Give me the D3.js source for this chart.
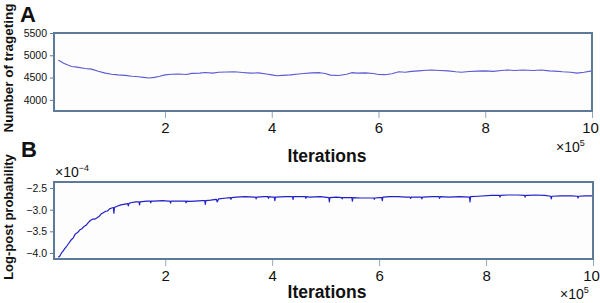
<!DOCTYPE html>
<html>
<head>
<meta charset="utf-8">
<script src="https://cdn.jsdelivr.net/npm/d3@7"></script>
<style>
  body { margin: 0; background: #fff; }
  text { font-family: "Liberation Sans", Arial, sans-serif; fill: #111; }
</style>
</head>
<body>
<div id="chart"></div>
<script>
//
// data (iterations in units of 1e5)
//
var xTicks = [2, 4, 6, 8, 10]
var aTicks = [4000, 4500, 5000, 5500]
var bTicks = [-4.0, -3.5, -3.0, -2.5]

// panel A: number of targeting
var aIter = [0, 0.05, 0.1, 0.18, 0.25, 0.35, 0.5, 0.62, 0.75, 0.88, 1.0, 1.12, 1.25, 1.38, 1.5, 1.6, 1.7, 1.8,
  1.9, 2.0, 2.12, 2.25, 2.4, 2.5, 2.65, 2.75, 2.9, 3.0, 3.15, 3.3, 3.45, 3.6, 3.75, 3.9, 4.0, 4.1, 4.2,
  4.35, 4.5, 4.6, 4.75, 4.9, 5.0, 5.1, 5.25, 5.4, 5.5, 5.6, 5.75, 5.9, 6.0, 6.12, 6.25, 6.38, 6.5, 6.62,
  6.75, 6.9, 7.0, 7.15, 7.3, 7.45, 7.55, 7.7, 7.85, 8.0, 8.15, 8.3, 8.42, 8.55, 8.7, 8.9, 9.05, 9.2,
  9.3, 9.45, 9.6, 9.72, 9.85, 10.0]
var aCount = [4890, 4860, 4820, 4780, 4750, 4735, 4705, 4690, 4640, 4600, 4575, 4560, 4550, 4530, 4520, 4505, 4490, 4505,
  4530, 4560, 4575, 4580, 4570, 4595, 4600, 4615, 4600, 4620, 4625, 4630, 4615, 4600, 4605, 4580, 4560, 4540, 4550,
  4560, 4580, 4590, 4605, 4610, 4590, 4555, 4545, 4575, 4610, 4600, 4605, 4590, 4570, 4565, 4585, 4630, 4620, 4640,
  4650, 4665, 4670, 4660, 4650, 4630, 4620, 4635, 4645, 4650, 4640, 4660, 4670, 4660, 4670, 4660, 4670, 4650,
  4645, 4630, 4620, 4600, 4620, 4650]

// panel B: log-post probability (x 1e-4)
var bIter = [0, 0.03, 0.06, 0.09, 0.12, 0.16, 0.2, 0.24, 0.28, 0.32, 0.36, 0.4, 0.44, 0.48, 0.52, 0.56, 0.6, 0.64,
  0.68, 0.72, 0.76, 0.8, 0.84, 0.88, 0.92, 0.96, 1.0, 1.03, 1.04, 1.05, 1.1, 1.17, 1.25, 1.3, 1.31, 1.32,
  1.35, 1.45, 1.51, 1.52, 1.53, 1.65, 1.72, 1.73, 1.74, 1.8, 1.95, 2.05, 2.09, 2.1, 2.11, 2.3, 2.38, 2.39,
  2.4, 2.45, 2.55, 2.7, 2.74, 2.75, 2.76, 2.85, 2.95, 2.96, 2.97, 3.0, 3.15, 3.22, 3.23, 3.24, 3.33, 3.5,
  3.65, 3.69, 3.7, 3.71, 3.85, 3.92, 3.93, 3.94, 4.0, 4.04, 4.05, 4.06, 4.25, 4.38, 4.39, 4.4, 4.55, 4.62,
  4.63, 4.64, 4.7, 4.9, 5.06, 5.07, 5.08, 5.2, 5.3, 5.31, 5.32, 5.4, 5.49, 5.5, 5.51, 5.65, 5.8, 5.9,
  5.91, 5.92, 6.0, 6.05, 6.06, 6.07, 6.2, 6.35, 6.5, 6.58, 6.59, 6.6, 6.79, 6.8, 6.81, 7.0, 7.12, 7.13,
  7.14, 7.3, 7.5, 7.69, 7.7, 7.71, 7.85, 8.1, 8.25, 8.26, 8.27, 8.4, 8.6, 8.72, 8.73, 8.74, 8.8, 8.9,
  9.1, 9.21, 9.22, 9.23, 9.4, 9.6, 9.71, 9.72, 9.73, 9.85, 10.0]
var bValue = [-4.10, -4.07, -4.00, -3.96, -3.90, -3.84, -3.77, -3.70, -3.65, -3.56, -3.53, -3.47, -3.44, -3.39, -3.36, -3.30, -3.25, -3.22,
  -3.22, -3.19, -3.16, -3.10, -3.07, -3.04, -3.03, -2.98, -2.96, -2.95, -3.08, -2.95, -2.92, -2.89, -2.87, -2.86, -2.91, -2.86,
  -2.84, -2.82, -2.82, -2.89, -2.82, -2.80, -2.80, -2.84, -2.80, -2.80, -2.79, -2.80, -2.80, -2.85, -2.80, -2.80, -2.80, -2.84,
  -2.80, -2.81, -2.80, -2.79, -2.79, -2.88, -2.79, -2.78, -2.76, -2.76, -2.82, -2.75, -2.73, -2.72, -2.76, -2.72, -2.71, -2.70,
  -2.71, -2.71, -2.75, -2.71, -2.70, -2.70, -2.74, -2.70, -2.71, -2.71, -2.79, -2.71, -2.70, -2.70, -2.76, -2.70, -2.70, -2.70,
  -2.74, -2.70, -2.71, -2.70, -2.72, -2.82, -2.72, -2.71, -2.72, -2.75, -2.72, -2.72, -2.72, -2.80, -2.72, -2.73, -2.73, -2.73,
  -2.76, -2.73, -2.72, -2.72, -2.79, -2.71, -2.70, -2.70, -2.71, -2.71, -2.74, -2.71, -2.71, -2.75, -2.71, -2.70, -2.70, -2.74,
  -2.70, -2.71, -2.70, -2.71, -2.82, -2.70, -2.69, -2.67, -2.67, -2.71, -2.67, -2.66, -2.66, -2.67, -2.71, -2.67, -2.67, -2.66,
  -2.67, -2.69, -2.75, -2.69, -2.68, -2.68, -2.69, -2.73, -2.69, -2.68, -2.68]

//
// layout
//
var W = 600, H = 303
var boxColor = '#5d7b98', tickColor = '#93a8bd'

var svg = d3.select('#chart').append('svg')
  .attr('width', W).attr('height', H)

function panel(opt) {
  var x = d3.scaleLinear().domain([-0.08, 10]).range([opt.left, opt.right])
  var y = d3.scaleLinear().domain(opt.yDomain).range([opt.bottom, opt.top])

  svg.append('rect')
    .attr('x', opt.left).attr('y', opt.top)
    .attr('width', opt.right - opt.left).attr('height', opt.bottom - opt.top)
    .attr('fill', '#fdfdfe')

  // line
  var pts = opt.xs.map(function(d, i) { return [d, opt.ys[i]] })
  var line = d3.line().x(function(d) { return x(d[0]) }).y(function(d) { return y(d[1]) })
  svg.append('path')
    .attr('d', line(pts))
    .attr('fill', 'none')
    .attr('stroke', opt.lineColor)
    .attr('stroke-width', opt.lineWidth)
    .attr('stroke-linejoin', 'round')

  // x axis
  var gx = svg.append('g')
    .attr('transform', 'translate(0,' + opt.bottom + ')')
    .call(d3.axisBottom(x).tickValues(xTicks).tickSize(7).tickPadding(4).tickFormat(d3.format('d')))
  gx.select('.domain').remove()
  gx.selectAll('line').attr('stroke', tickColor)
  gx.selectAll('text').style('font-size', '15px').attr('fill', '#111')
    .attr('dx', function(d) { return d === 10 ? -2 : 0 })

  // y axis
  var gy = svg.append('g')
    .attr('transform', 'translate(' + opt.left + ',0)')
    .call(d3.axisLeft(y).tickValues(opt.yTicks).tickSize(4).tickPadding(3).tickFormat(opt.yFormat))
  gy.select('.domain').remove()
  gy.selectAll('line').attr('stroke', boxColor)
  gy.selectAll('text').style('font-size', '10.5px').attr('fill', '#222')

  // frame
  svg.append('rect')
    .attr('x', opt.left).attr('y', opt.top)
    .attr('width', opt.right - opt.left).attr('height', opt.bottom - opt.top)
    .attr('fill', 'none')
    .attr('stroke', boxColor)
    .attr('stroke-width', 2)

  // labels
  svg.append('text')
    .attr('x', 327).attr('y', opt.xLabelY)
    .attr('text-anchor', 'middle')
    .style('font-size', '17.5px').style('font-weight', 'bold')
    .text('Iterations')

  var e5 = svg.append('text')
    .attr('x', opt.e5x).attr('y', opt.e5y)
    .style('font-size', '14px')
  e5.append('tspan').text('×10')
  e5.append('tspan').attr('dy', -6).style('font-size', '9px').text('5')

  svg.append('text')
    .attr('transform', 'translate(13,' + opt.yLabelY + ') rotate(-90)')
    .attr('text-anchor', 'middle')
    .style('font-size', opt.yLabelSize).style('font-weight', 'bold')
    .text(opt.yLabel)

  svg.append('text')
    .attr('x', opt.letterX).attr('y', opt.letterY)
    .style('font-size', '22px').style('font-weight', 'bold')
    .text(opt.letter)
}

panel({
  left: 54, right: 592, top: 33, bottom: 111,
  yDomain: [3750, 5500], yTicks: aTicks, yFormat: d3.format('d'),
  xs: aIter, ys: aCount,
  lineColor: '#5a5ad2', lineWidth: 1.1,
  xLabelY: 162, e5x: 556, e5y: 152,
  yLabel: 'Number of trageting', yLabelY: 68, yLabelSize: '13.5px',
  letter: 'A', letterX: 20, letterY: 22
})

panel({
  left: 54, right: 593, top: 182, bottom: 259,
  yDomain: [-4.14, -2.36], yTicks: bTicks, yFormat: d3.format('.1f'),
  xs: bIter, ys: bValue,
  lineColor: '#2020c8', lineWidth: 1.2,
  xLabelY: 298, e5x: 560, e5y: 299,
  yLabel: 'Log-post probability', yLabelY: 217, yLabelSize: '13px',
  letter: 'B', letterX: 21, letterY: 157
})

// exponent of panel B
var e4 = svg.append('text')
  .attr('x', 55).attr('y', 177)
  .style('font-size', '14px')
e4.append('tspan').text('×10')
e4.append('tspan').attr('dy', -6).style('font-size', '9px').text('−4')
</script>
</body>
</html>
